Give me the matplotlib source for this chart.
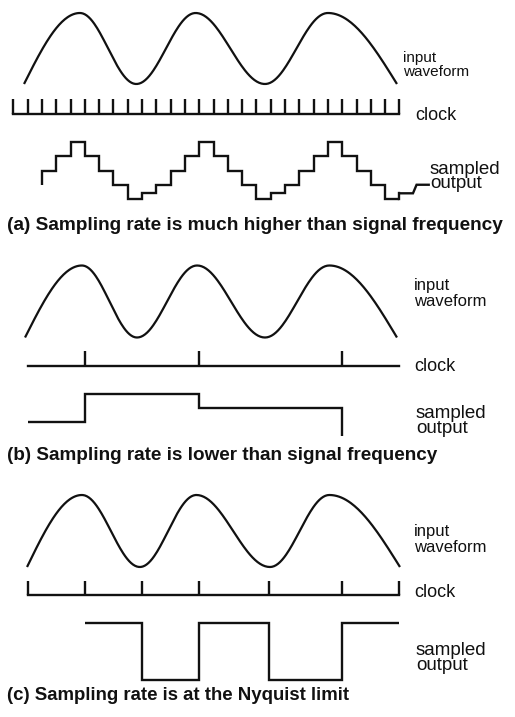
import numpy as np
import matplotlib
matplotlib.use('Agg')
import matplotlib.pyplot as plt

W, H = 515, 717

# time axis is in clock periods of panel (a)
clock_a = list(range(28))
clock_b = [5, 13, 23]
clock_c = [1, 5, 9, 13, 17.85, 23, 27]

# input waveform: times of start, peaks/troughs and end, with their levels
wave_a_t = [0.75, 4.66, 8.6, 12.75, 17.6, 22.0, 26.83]
wave_b_t = [0.82, 4.8, 8.65, 12.85, 17.6, 22.1, 26.83]
wave_c_t = [0.96, 4.8, 8.85, 12.8, 17.95, 22.1, 27.04]
wave_lv = [-1, 1, -1, 1, -1, 1, -1]

# sampled output (a): one level per clock period, from tick 2 to tick 27
out_a_start = -0.5
out_a_lv = [0, 0.5, 1, 0.5, 0, -0.5, -1, -0.8, -0.5, 0, 0.5, 1, 0.5,
            0, -0.5, -1, -0.8, -0.5, 0, 0.5, 1, 0.5, 0, -0.5, -1]
tail_a_t = [27, 27.95, 28.2, 29.05]
tail_a_v = [-0.8, -0.8, -0.5, -0.5]

# sampled output (b) and (c): step edges and held levels
out_b_edges = [1, 5, 13, 23]
out_b_lv = [-0.33, 1, 0.33]
out_b_end = -1
out_c_edges = [5, 9, 13, 17.85, 23, 27]
out_c_lv = [1, -1, 1, -1, 1]

captions = ['(a) Sampling rate is much higher than signal frequency',
            '(b) Sampling rate is lower than signal frequency',
            '(c) Sampling rate is at the Nyquist limit']

fig = plt.figure(figsize=(W / 100, H / 100), dpi=100)
FONT = 'Liberation Sans'
LW = 1.7
INK = '#111111'


def band(y_top, y_bot, ylim):
    ax = fig.add_axes([0, 1 - y_bot / H, 1, (y_bot - y_top) / H])
    ax.set_xlim(-13.3 / 14.3, (W - 13.3) / 14.3)
    ax.set_ylim(*ylim)
    ax.axis('off')
    return ax


def wave(ax, ts, lv):
    xs, ys = [], []
    n = len(ts) - 1
    for i in range(n):
        s = np.linspace(0, 1, 60)
        if i == 0:
            f = np.sin(np.pi / 2 * s)
        elif i == n - 1:
            f = 1 - np.cos(np.pi / 2 * s)
        else:
            f = (1 - np.cos(np.pi * s)) / 2
        xs.append(ts[i] + (ts[i + 1] - ts[i]) * s)
        ys.append(lv[i] + (lv[i + 1] - lv[i]) * f)
    ax.plot(np.concatenate(xs), np.concatenate(ys), color=INK,
            lw=1.6, clip_on=False, solid_capstyle='butt')


def clock(ax, t0, t1, ticks):
    ax.plot([t0, t1], [0, 0], color=INK, lw=LW, clip_on=False,
            solid_capstyle='projecting')
    ax.vlines(ticks, 0, 1, color=INK, lw=LW, clip_on=False)


def steps(ax, edges, lv, v0=None, v_end=None):
    xs, ys = [], []
    if v0 is not None:
        xs.append(edges[0]); ys.append(v0)
    for i, v in enumerate(lv):
        xs += [edges[i], edges[i + 1]]
        ys += [v, v]
    if v_end is not None:
        xs.append(edges[-1]); ys.append(v_end)
    ax.plot(xs, ys, color=INK, lw=LW, clip_on=False,
            solid_joinstyle='miter', solid_capstyle='butt')


def label(x, y, s, size, bold=False, ls=1.2):
    # y is the baseline of the last line, in pixels from the top
    fig.text(x / W, 1 - y / H, s, fontsize=size, family=FONT,
             fontweight='bold' if bold else 'normal', va='baseline', ha='left',
             color=INK, linespacing=ls)


# ---- panel (a)
wave(band(13, 84, (-1, 1)), wave_a_t, wave_lv)
clock(band(99, 114, (0, 1)), 0, 27, clock_a)
ax = band(142, 199, (-1, 1))
steps(ax, clock_a[2:], out_a_lv, v0=out_a_start)
ax.plot(tail_a_t, tail_a_v, color=INK, lw=LW, clip_on=False,
        solid_joinstyle='miter')
ax.plot([27, 27], [-1, -0.8], color=INK, lw=LW, clip_on=False)
label(403, 76.5, 'input\nwaveform', 11, ls=1.07)
label(415, 120, 'clock', 13)
label(430, 188.5, 'sampled\noutput', 13.5, ls=0.8)
label(7, 230, captions[0], 13.7, bold=True)

# ---- panel (b)
wave(band(265.5, 337.5, (-1, 1)), wave_b_t, wave_lv)
clock(band(351, 366, (0, 1)), 1, 27, clock_b)
steps(band(394, 436, (-1, 1)), out_b_edges, out_b_lv, v_end=out_b_end)
label(414, 305.5, 'input\nwaveform', 12, ls=1.04)
label(414, 371, 'clock', 13)
label(416, 433, 'sampled\noutput', 13.5, ls=0.88)
label(7, 460, captions[1], 13.6, bold=True)

# ---- panel (c)
wave(band(495, 567, (-1, 1)), wave_c_t, wave_lv)
clock(band(581, 595, (0, 1)), 1, 27, clock_c)
steps(band(623, 680, (-1, 1)), out_c_edges, out_c_lv)
label(414, 551.5, 'input\nwaveform', 12, ls=1.04)
label(414, 597, 'clock', 13)
label(416, 670, 'sampled\noutput', 13.5, ls=0.88)
label(7, 700, captions[2], 13.4, bold=True)

fig.savefig('out.png', dpi=100)
